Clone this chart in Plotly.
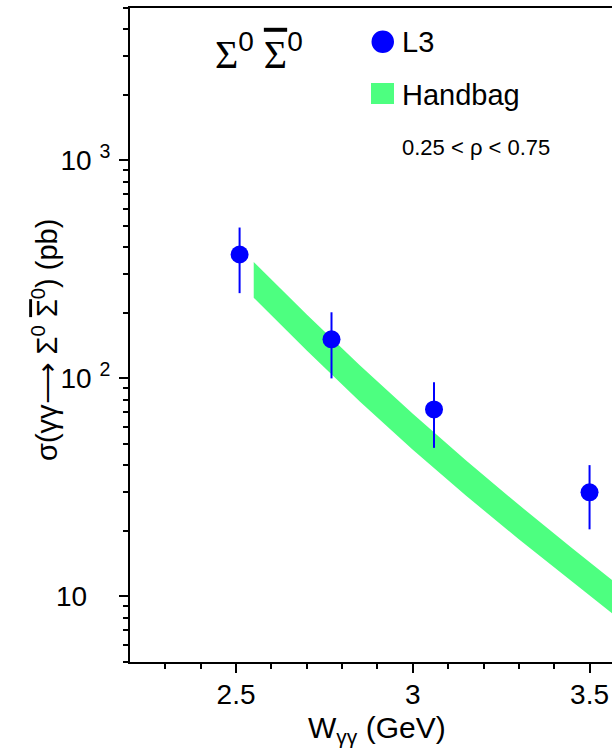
import plotly.graph_objects as go
import numpy as np

# ---- data ----
w_l3 = [2.51, 2.77, 3.06, 3.50]
sigma_l3 = [370, 151, 72, 30]
err_up = [122, 50, 24, 10]
err_down = [124, 51, 24, 9.7]

w_band = [2.55, 2.70, 2.85, 3.00, 3.15, 3.30, 3.45, 3.60]
band_upper = [342, 196.3, 115.0, 68.8, 42.1, 26.3, 16.66, 10.68]
band_lower = [234.5, 134.1, 78.3, 47.0, 29.0, 18.3, 11.69, 7.51]

y_tickvals = [10, 100, 1000]
y_ticktext = ["10&nbsp;&nbsp;&nbsp;", "10 <sup>2</sup>", "10 <sup>3</sup>"]
x_tickvals = [2.5, 3, 3.5]
x_ticktext = ["2.5", "3", "3.5"]

W, H = 612, 752
L, R, T, B = 130, 0, 8, 90
PW, PH = W - L - R, H - T - B

def px(x):
    return (x - L) / PW

def py(y):
    return (H - B - y) / PH

GREEN = "#4dff80"
BLUE = "#0000ff"
FONT = "Liberation Sans, Arial, sans-serif"
SANS0 = "<span style='font-family:Liberation Sans'>0</span>"
OVER = "<span style='text-decoration:overline'>Σ</span>"

fig = go.Figure()

# handbag band
fig.add_trace(go.Scatter(
    x=w_band + w_band[::-1],
    y=band_upper + band_lower[::-1],
    fill="toself", fillcolor=GREEN, mode="lines",
    line=dict(width=0, color=GREEN), hoverinfo="skip", showlegend=False,
))

# L3 data
fig.add_trace(go.Scatter(
    x=w_l3, y=sigma_l3, mode="markers",
    marker=dict(color=BLUE, size=18, line=dict(width=0)),
    error_y=dict(type="data", symmetric=False, array=err_up, arrayminus=err_down,
                 color=BLUE, thickness=2, width=0),
    showlegend=False,
))

minor_y = [m * 10 ** k for k in range(0, 4) for m in range(2, 10) if 5 <= m * 10 ** k <= 5000]

fig.update_xaxes(
    range=[2.2, 3.5635], showgrid=False, zeroline=False,
    showline=True, linecolor="black", linewidth=2, mirror=True,
    ticks="outside", ticklen=9, tickwidth=1.5, tickcolor="black",
    tickmode="array", tickvals=x_tickvals, ticktext=x_ticktext,
    tickfont=dict(family=FONT, size=28, color="black"),
    ticklabelstandoff=-3,
    minor=dict(ticks="outside", ticklen=5, tickwidth=1.5, tickcolor="black",
               tickmode="array", tickvals=[2.3, 2.4, 2.6, 2.7, 2.8, 2.9, 3.1, 3.2, 3.3, 3.4]),
)
fig.update_yaxes(
    type="log", range=[np.log10(5), np.log10(5000)], showgrid=False, zeroline=False,
    showline=True, linecolor="black", linewidth=2, mirror=False,
    ticks="outside", ticklen=9, tickwidth=1.5, tickcolor="black",
    tickmode="array", tickvals=y_tickvals, ticktext=y_ticktext,
    tickfont=dict(family=FONT, size=28, color="black"),
    ticklabelstandoff=3,
    minor=dict(ticks="outside", ticklen=5, tickwidth=1.5, tickcolor="black",
               tickmode="array", tickvals=minor_y),
)

shapes = [
    dict(type="circle", xref="paper", yref="paper",
         x0=px(371.5), x1=px(394), y0=py(53), y1=py(30.5),
         fillcolor=BLUE, line=dict(width=0)),
    dict(type="rect", xref="paper", yref="paper",
         x0=px(371), x1=px(394), y0=py(104), y1=py(83),
         fillcolor=GREEN, line=dict(width=0)),
]

annotations = [
    dict(text="L3", x=px(400), y=py(42), xref="paper", yref="paper",
         xanchor="left", yanchor="middle", showarrow=False,
         font=dict(family=FONT, size=29, color="black")),
    dict(text="Handbag", x=px(400), y=py(95), xref="paper", yref="paper",
         xanchor="left", yanchor="middle", showarrow=False,
         font=dict(family=FONT, size=29, color="black")),
    dict(text="0.25 &lt; ρ &lt; 0.75", x=px(400), y=py(147), xref="paper", yref="paper",
         xanchor="left", yanchor="middle", showarrow=False,
         font=dict(family=FONT, size=22, color="black")),
    dict(text="Σ<sup>" + SANS0 + "</sup>&nbsp;" + OVER + "<sup>" + SANS0 + "</sup>",
         x=px(213), y=py(52), xref="paper", yref="paper",
         xanchor="left", yanchor="middle", showarrow=False,
         font=dict(family="Liberation Serif, Times New Roman, serif", size=40, color="black")),
    dict(text="W<sub>γγ</sub> (GeV)", x=px(377), y=py(729), xref="paper", yref="paper",
         xanchor="center", yanchor="middle", showarrow=False,
         font=dict(family=FONT, size=30, color="black")),
    dict(text="σ(γγ⟶ Σ<sup>0</sup> " + OVER + "<sup>0</sup>) (pb)", x=px(45), y=py(340),
         xref="paper", yref="paper", textangle=-90,
         xanchor="center", yanchor="middle", showarrow=False,
         font=dict(family=FONT, size=29, color="black")),
]

fig.update_layout(
    width=W, height=H, margin=dict(l=L, r=R, t=T, b=B, pad=0),
    paper_bgcolor="white", plot_bgcolor="white",
    showlegend=False, shapes=shapes, annotations=annotations,
)

fig.write_html("out.html", include_plotlyjs=True, config={"displayModeBar": False})
